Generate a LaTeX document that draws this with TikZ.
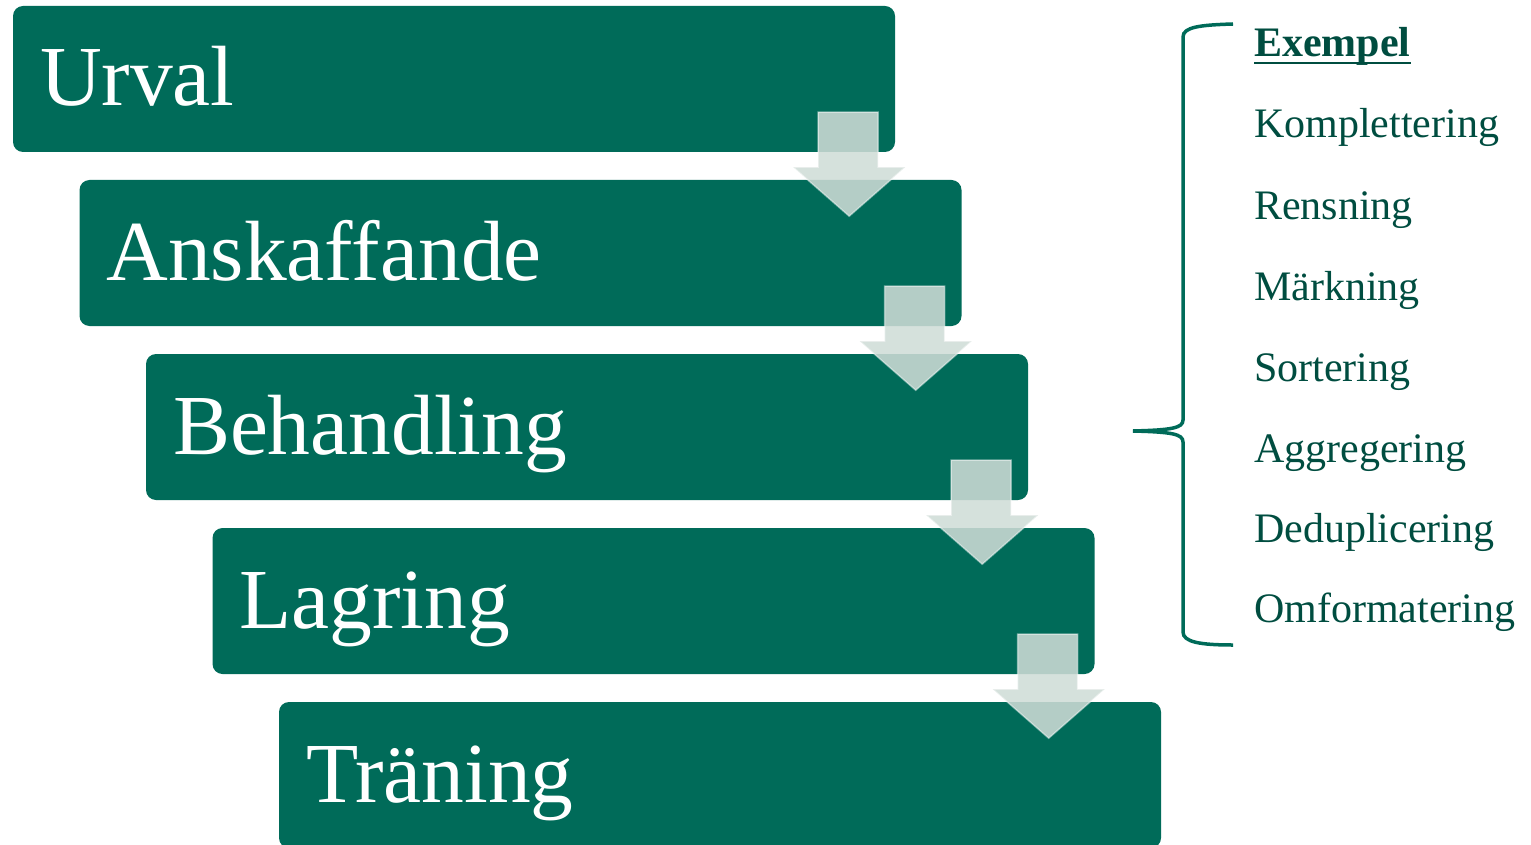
\documentclass[tikz,border=0pt]{standalone}
\usepackage{fontspec}
\setmainfont{Liberation Serif}
\usepackage{tikz}
\definecolor{stepgreen}{RGB}{0,107,89}
\definecolor{listgreen}{RGB}{0,77,64}
\definecolor{arrowgrey}{RGB}{207,220,215}

\begin{document}
\begin{tikzpicture}
   [x=1pt,y=-1pt,
    phase/.style={fill=stepgreen,rounded corners=10pt,minimum width=882pt,minimum height=146pt,
       text width=828pt,align=left,text height=64pt,text depth=10pt,inner sep=0pt,text=white,
       font=\fontsize{85.5}{90}\selectfont},
    flow/.style={fill=arrowgrey,fill opacity=0.87,draw=white,draw opacity=0.45,line width=1.5pt},
    item/.style={anchor=base west,inner sep=0pt,text=listgreen,font=\fontsize{42}{46}\selectfont}]
   \useasboundingbox (0,0) rectangle (1531,845);

   \node[phase] (urval) at (454,79) {Urval};
   \node[phase] (anskaffande) at (520.5,253) {Anskaffande};
   \node[phase] (behandling) at (587,427) {Behandling};
   \node[phase] (lagring) at (653.5,601) {Lagring};
   \node[phase] (traning) at (720,775) {Träning};

   \begin{scope}[shift={(urval.south east)}]
      \draw[flow] (-77,-40) -- (-17,-40) -- (-17,15) -- (10,15) -- (-46,64) -- (-102,15) -- (-77,15) -- cycle;
   \end{scope}
   \begin{scope}[shift={(anskaffande.south east)}]
      \draw[flow] (-77,-40) -- (-17,-40) -- (-17,15) -- (10,15) -- (-46,64) -- (-102,15) -- (-77,15) -- cycle;
   \end{scope}
   \begin{scope}[shift={(behandling.south east)}]
      \draw[flow] (-77,-40) -- (-17,-40) -- (-17,15) -- (10,15) -- (-46,64) -- (-102,15) -- (-77,15) -- cycle;
   \end{scope}
   \begin{scope}[shift={(lagring.south east)}]
      \draw[flow] (-77,-40) -- (-17,-40) -- (-17,15) -- (10,15) -- (-46,64) -- (-102,15) -- (-77,15) -- cycle;
   \end{scope}

   \draw[stepgreen,line width=3.5pt] (1233,24) .. controls (1200,25) and (1183,27) .. (1183,37)
      -- (1183,420) .. controls (1183,428) and (1172,430) .. (1133,431)
      .. controls (1172,432) and (1183,434) .. (1183,442)
      -- (1183,632) .. controls (1183,642) and (1200,645) .. (1233,645);

   \node[item] (exempel) at (1254,57) {\bfseries Exempel};
   \draw[listgreen,line width=2.5pt] ([yshift=-6pt]exempel.base west) -- ([yshift=-6pt]exempel.base east);
   \node[item] (komplettering) at (1254,138) {Komplettering};
   \node[item] (rensning) at (1254,219) {Rensning};
   \node[item] (markning) at (1254,300) {Märkning};
   \node[item] (sortering) at (1254,381) {Sortering};
   \node[item] (aggregering) at (1254,462) {Aggregering};
   \node[item] (deduplicering) at (1254,542) {Deduplicering};
   \node[item] (omformatering) at (1254,622) {Omformatering};
\end{tikzpicture}
\end{document}
